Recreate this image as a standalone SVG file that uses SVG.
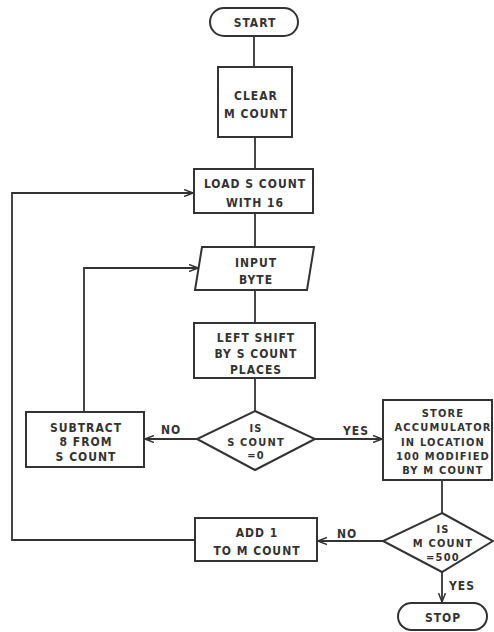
<svg xmlns="http://www.w3.org/2000/svg" width="494" height="632" viewBox="0 0 494 632">
<defs>
<marker id="ah" markerWidth="10" markerHeight="8" refX="9" refY="4" orient="auto" markerUnits="userSpaceOnUse">
<path d="M0,0.5 L9,4 L0,7.5" fill="none" stroke="#333" stroke-width="1.5"/>
</marker>
<style>
.s{fill:#fff;stroke:#333;stroke-width:2}
.c{fill:none;stroke:#333;stroke-width:1.8}
text{font-family:"DejaVu Sans Condensed","Liberation Sans",sans-serif;font-weight:bold;font-size:12px;fill:#333;text-anchor:middle;letter-spacing:1px}
.sm{font-size:11px;letter-spacing:1.2px}
</style>
</defs>
<rect width="494" height="632" fill="#fff"/>
<g id="connectors">
<path class="c" d="M254,36 V67"/>
<path class="c" d="M255,137 V169"/>
<path class="c" d="M255,213 V247"/>
<path class="c" d="M255,290 V323"/>
<path class="c" d="M255,378 V411"/>
<path class="c" d="M197,439 H145" marker-end="url(#ah)"/>
<path class="c" d="M84,412 V268 H198" marker-end="url(#ah)"/>
<path class="c" d="M315,439 H382" marker-end="url(#ah)"/>
<path class="c" d="M442,480 V513"/>
<path class="c" d="M383,541 H318" marker-end="url(#ah)"/>
<path class="c" d="M195,540 H12 V193 H193" marker-end="url(#ah)"/>
<path class="c" d="M442,572 V602" marker-end="url(#ah)"/>
<text x="171" y="434">NO</text>
<text x="356" y="435">YES</text>
<text x="347" y="538">NO</text>
<text x="462" y="590">YES</text>
</g>
<g id="start"><rect class="s" x="210" y="8" width="88" height="28" rx="14"/><text x="255" y="27">START</text></g>
<g id="clear"><rect class="s" x="218" y="67" width="74" height="70"/><text x="256" y="100">CLEAR</text><text x="256" y="118">M COUNT</text></g>
<g id="load"><rect class="s" x="194" y="169" width="119" height="44"/><text x="255" y="188">LOAD S COUNT</text><text x="255" y="207">WITH 16</text></g>
<g id="input"><polygon class="s" points="202,247 314,247 307,290 195,290"/><text x="256" y="267">INPUT</text><text x="256" y="284">BYTE</text></g>
<g id="shift"><rect class="s" x="194" y="323" width="121" height="55"/><text x="256" y="342">LEFT SHIFT</text><text x="256" y="358">BY S COUNT</text><text x="256" y="374">PLACES</text></g>
<g id="dec1"><polygon class="s" points="255,411 315,439 255,470 197,439"/><text class="sm" x="256" y="432">IS</text><text class="sm" x="256" y="446">S COUNT</text><text class="sm" x="256" y="459">=0</text></g>
<g id="subtract"><rect class="s" x="26" y="412" width="118" height="55"/><text x="86" y="432">SUBTRACT</text><text x="86" y="446">8 FROM</text><text x="86" y="461">S COUNT</text></g>
<g id="store"><rect class="s" x="383" y="400" width="109" height="80"/><text class="sm" x="443" y="417">STORE</text><text class="sm" x="443" y="431">ACCUMULATOR</text><text class="sm" x="443" y="446">IN LOCATION</text><text class="sm" x="443" y="460">100 MODIFIED</text><text class="sm" x="443" y="474">BY M COUNT</text></g>
<g id="dec2"><polygon class="s" points="442,513 493,541 442,572 383,541"/><text class="sm" x="443" y="533">IS</text><text class="sm" x="443" y="547">M COUNT</text><text class="sm" x="443" y="561">=500</text></g>
<g id="add"><rect class="s" x="195" y="518" width="122" height="43"/><text x="257" y="537">ADD 1</text><text x="257" y="555">TO M COUNT</text></g>
<g id="stop"><rect class="s" x="398" y="603" width="89" height="27" rx="13.5"/><text x="443" y="622">STOP</text></g>
</svg>
